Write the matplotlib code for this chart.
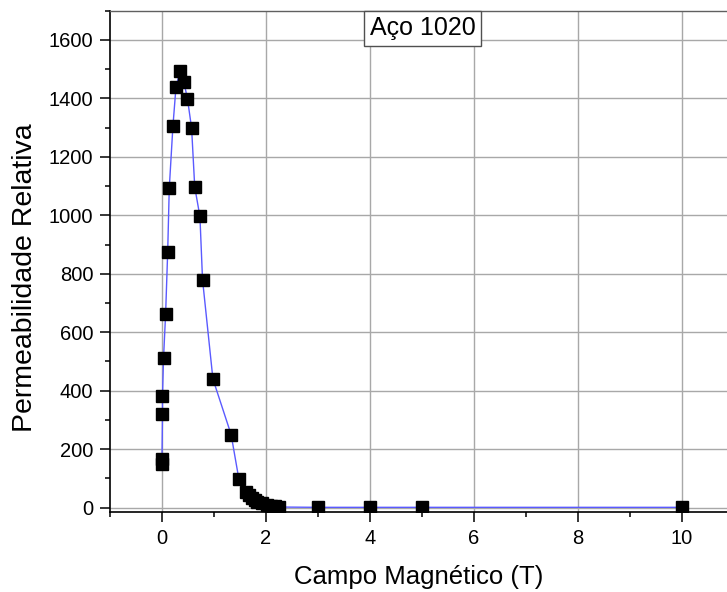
import matplotlib.pyplot as plt
from matplotlib.ticker import MultipleLocator

plt.rcParams['font.family'] = ['Liberation Sans', 'DejaVu Sans']

# campo magnetico (T) e permeabilidade relativa
campo = [0.00, 0.00, 0.01, 0.01, 0.03, 0.07, 0.11, 0.14, 0.21, 0.27, 0.35,
         0.42, 0.49, 0.57, 0.63, 0.73, 0.78, 0.98, 1.33, 1.48, 1.61, 1.67,
         1.73, 1.78, 1.83, 1.92, 2.02, 2.10, 2.18, 2.25, 3.0, 4.0, 5.0, 10.0]
permeab = [150, 166, 320, 383, 512, 663, 876, 1092, 1304, 1440, 1494,
           1457, 1399, 1298, 1097, 996, 780, 440, 250, 97, 55, 43,
           32, 26, 20, 15, 10, 6, 4, 2, 1, 1, 1, 1]

xticks = [0, 2, 4, 6, 8, 10]
yticks = [0, 200, 400, 600, 800, 1000, 1200, 1400, 1600]

fig = plt.figure(figsize=(7.27, 5.92), dpi=100)
ax = fig.add_axes([110/727, 1 - 512.3/592, 1 - 110/727, (512.3 - 10.7)/592])

ax.plot(campo, permeab, color='#5a5aff', lw=1, zorder=3)
ax.plot(campo, permeab, ls='none', marker='s', ms=8.5, color='black', zorder=4)

ax.set_xlim(-1, 10.87)
ax.set_ylim(-16, 1700)
ax.set_xticks(xticks)
ax.set_yticks(yticks)
ax.xaxis.set_minor_locator(MultipleLocator(1))
ax.yaxis.set_minor_locator(MultipleLocator(100))

ax.grid(True, which='major', color='#a8a8a8', lw=1)
ax.set_axisbelow(True)

ax.spines['right'].set_visible(False)
for s in ['left', 'bottom']:
    ax.spines[s].set_linewidth(1.2)
ax.spines['top'].set_linewidth(1.0)
ax.spines['top'].set_color('#606060')

ax.tick_params(which='major', direction='out', length=7, width=1.1,
               labelsize=14.5, pad=5, top=False, right=False)
ax.tick_params(which='minor', direction='out', length=3.6, width=1.1,
               top=False, right=False)

ax.set_xlabel('Campo Magnético (T)', fontsize=18.5, labelpad=12)
ax.set_ylabel('Permeabilidade Relativa', fontsize=20.5)
ax.yaxis.set_label_coords(-0.117, 0.467)

fig.text(422.5/727, 1 - 28.2/592, 'Aço 1020', fontsize=18, ha='center', va='center',
         bbox=dict(boxstyle='square,pad=0.22', fc='white', ec='#505050', lw=1))

fig.savefig('out.png', dpi=100)
